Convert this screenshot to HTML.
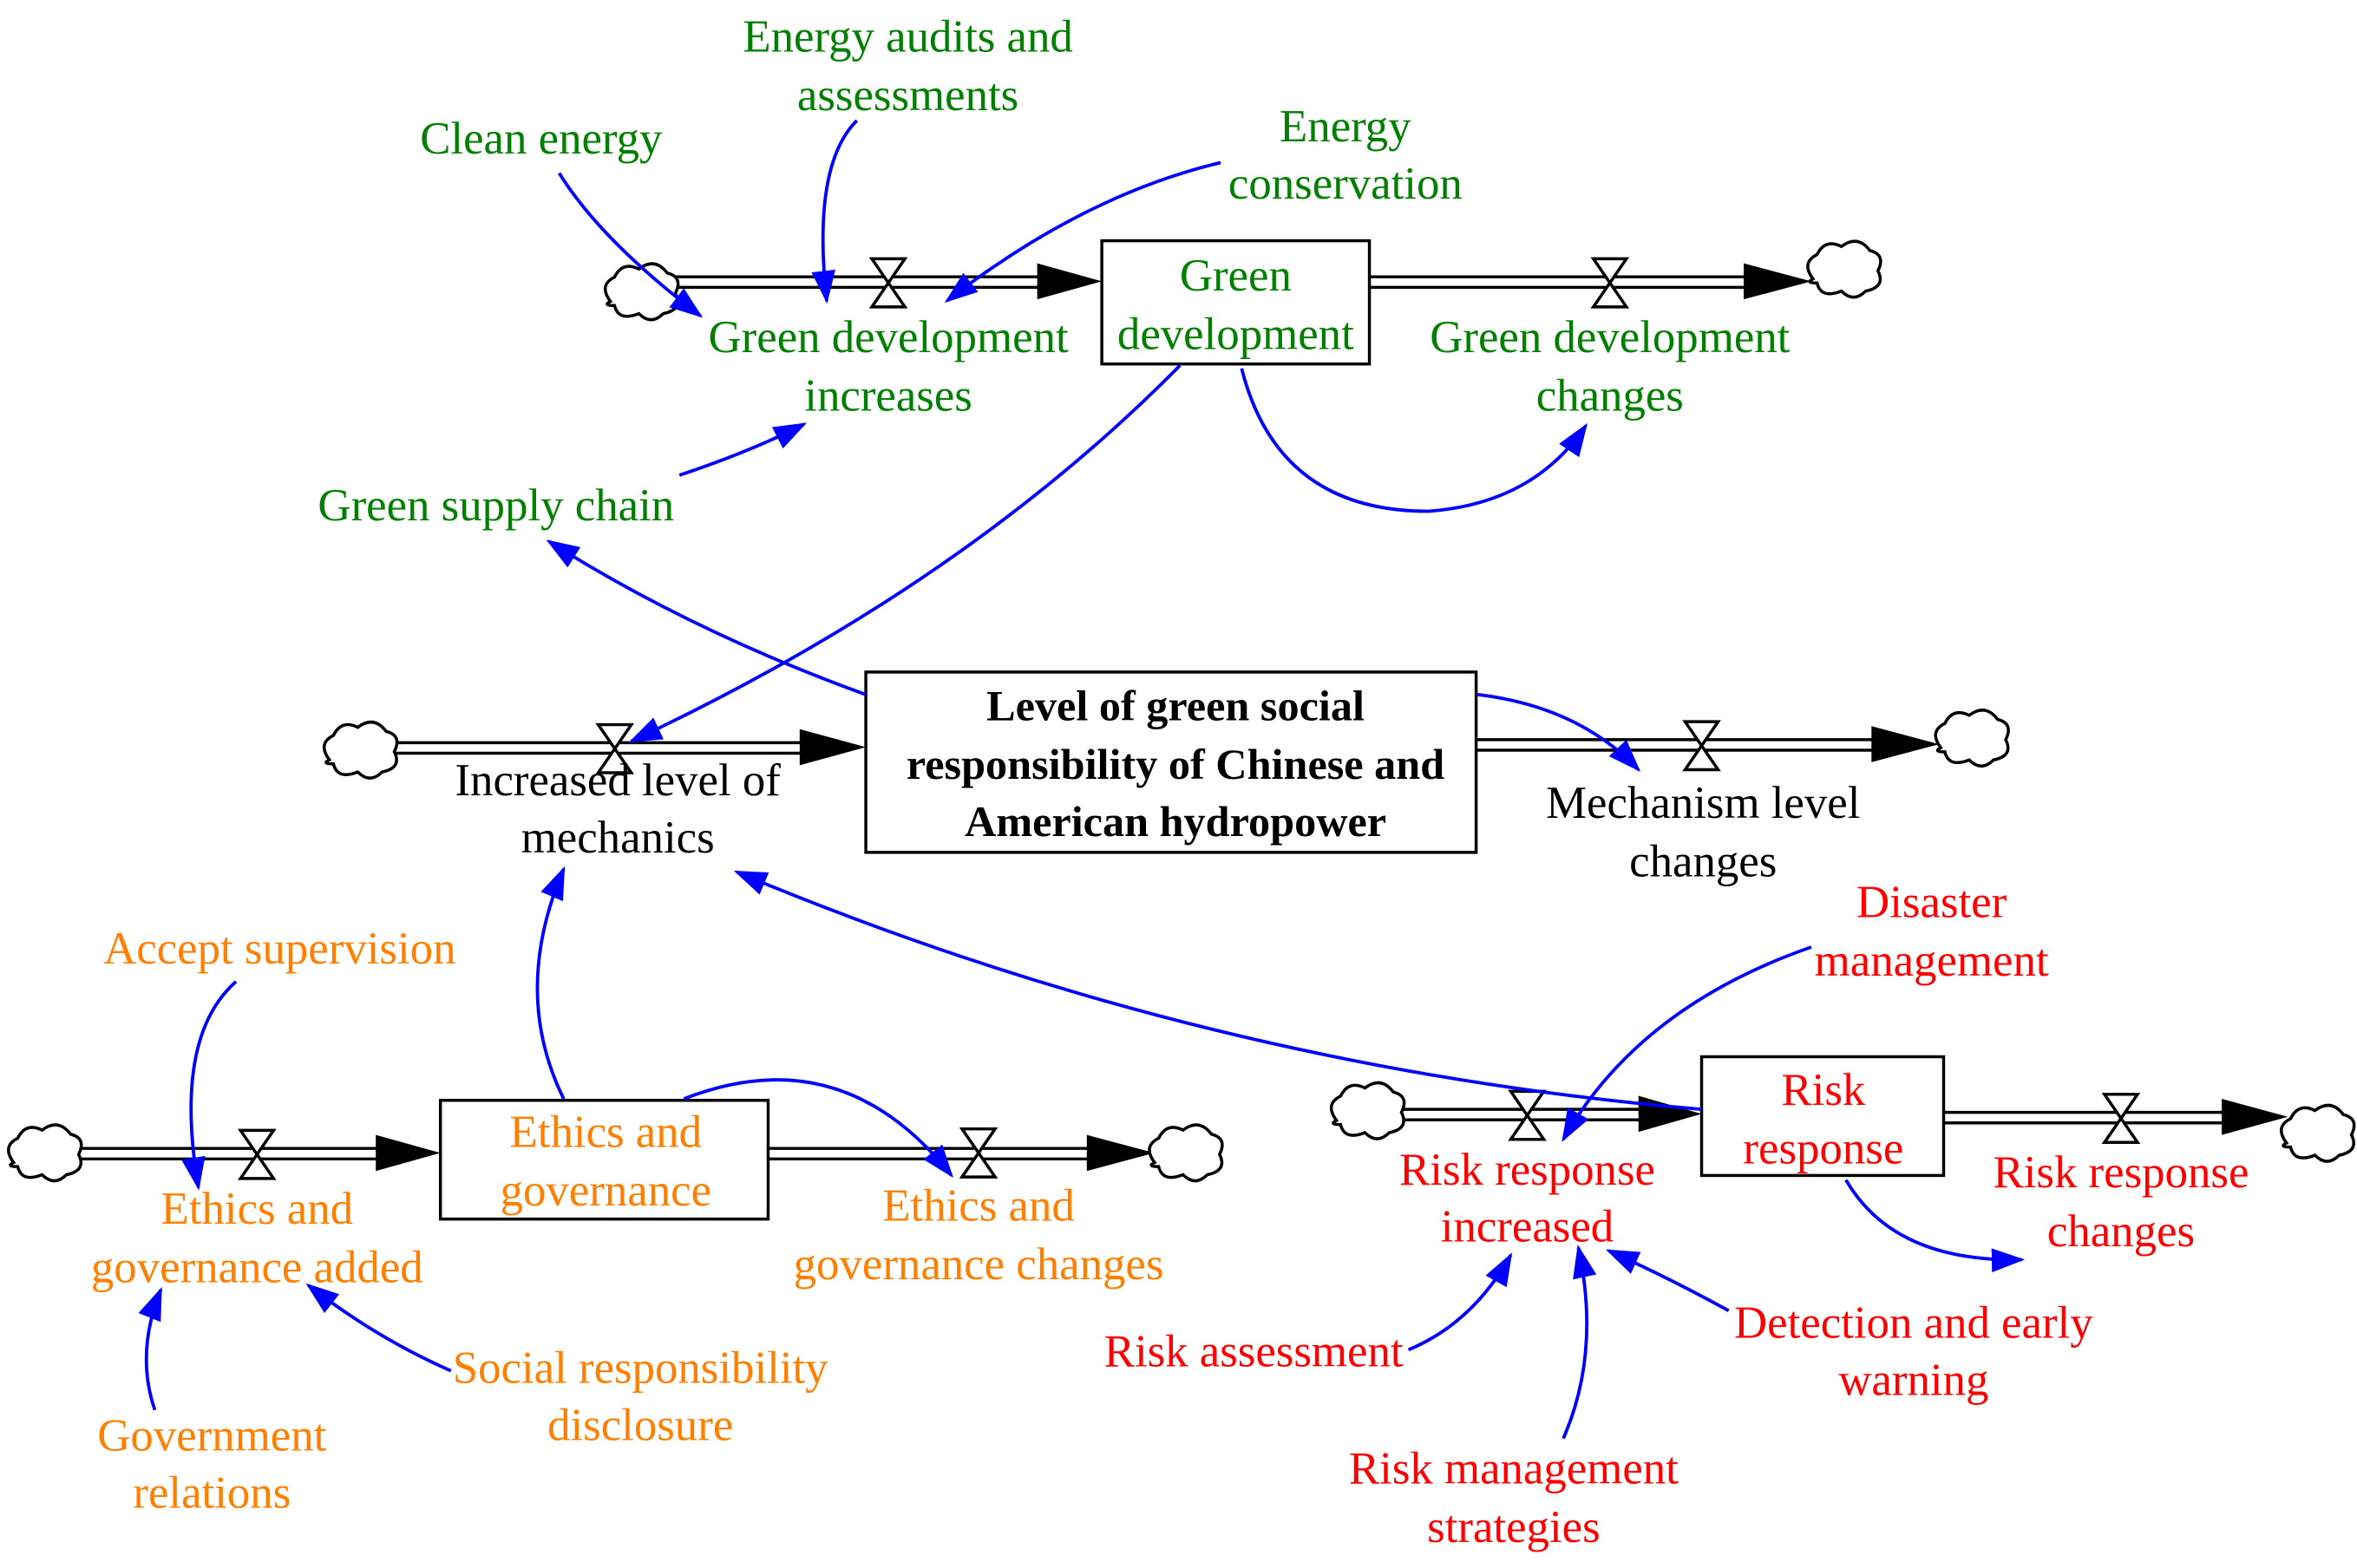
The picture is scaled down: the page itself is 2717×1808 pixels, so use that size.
<!DOCTYPE html>
<html><head><meta charset="utf-8"><style>
html,body{margin:0;padding:0;background:#fff}
svg{display:block}
text{font-family:"Liberation Serif",serif;font-size:30.5px;text-anchor:middle}
.g{fill:#008000}.o{fill:#ff8000}.r{fill:#ff0000}.k{fill:#000}
.b{font-weight:bold;font-size:29px}
.ln{fill:none;stroke:#0000ff;stroke-width:2.2;marker-end:url(#ah)}
.box{fill:#fff;stroke:#000;stroke-width:2}
.pipe{stroke:#000;stroke-width:2}
.valve{fill:#fff;stroke:#000;stroke-width:2}
.cloud{fill:#fff;stroke:#000;stroke-width:1.5}
</style></head><body>
<svg width="2717" height="1808" viewBox="0 0 1568 1043" xmlns="http://www.w3.org/2000/svg">
<defs>
<marker id="ah" markerWidth="22" markerHeight="16" refX="20" refY="8" orient="auto" markerUnits="userSpaceOnUse" viewBox="0 0 22 16">
<path d="M0,0 L22,8 L0,16 z" fill="#0000ff"/></marker>
<g id="cl"><path class="cloud" transform="scale(1.35)" d="M-14,4 q-6,-8 2,-12 q4,-8 12,-4 q8,-6 14,2 q8,2 4,10 q4,8 -6,10 q-6,6 -12,0 q-10,4 -12,-4 q-6,0 -2,-2z"/></g>
<g id="vv"><path class="valve" d="M-11,-16 L11,-16 L-11,16 L11,16 z"/></g>
</defs>

<line class="pipe" x1="445" y1="184" x2="700" y2="184"/><line class="pipe" x1="445" y1="191" x2="700" y2="191"/>
<path d="M690,175 L733,187 L690,199z"/>
<use href="#vv" x="591" y="188"/><use href="#cl" x="425" y="195"/>
<line class="pipe" x1="911" y1="184" x2="1170" y2="184"/><line class="pipe" x1="911" y1="191" x2="1170" y2="191"/>
<path d="M1160,175 L1205,187 L1160,199z"/>
<use href="#vv" x="1071" y="188"/><use href="#cl" x="1225" y="180"/>
<line class="pipe" x1="258" y1="494" x2="540" y2="494"/><line class="pipe" x1="258" y1="501" x2="540" y2="501"/>
<path d="M532,485 L576,497 L532,509z"/>
<use href="#vv" x="409" y="498"/><use href="#cl" x="238" y="500"/>
<line class="pipe" x1="982" y1="492" x2="1255" y2="492"/><line class="pipe" x1="982" y1="499" x2="1255" y2="499"/>
<path d="M1245,483 L1290,495 L1245,507z"/>
<use href="#vv" x="1132" y="496"/><use href="#cl" x="1310" y="492"/>
<line class="pipe" x1="48" y1="764" x2="260" y2="764"/><line class="pipe" x1="48" y1="771" x2="260" y2="771"/>
<path d="M250,755 L293,767 L250,779z"/>
<use href="#vv" x="171" y="768"/><use href="#cl" x="28" y="768"/>
<line class="pipe" x1="511" y1="764" x2="733" y2="764"/><line class="pipe" x1="511" y1="771" x2="733" y2="771"/>
<path d="M723,755 L768,767 L723,779z"/>
<use href="#vv" x="651" y="767"/><use href="#cl" x="787" y="768"/>
<line class="pipe" x1="928" y1="738" x2="1100" y2="738"/><line class="pipe" x1="928" y1="745" x2="1100" y2="745"/>
<path d="M1090,729 L1132,741 L1090,753z"/>
<use href="#vv" x="1016" y="742"/><use href="#cl" x="908" y="740"/>
<line class="pipe" x1="1293" y1="740" x2="1488" y2="740"/><line class="pipe" x1="1293" y1="747" x2="1488" y2="747"/>
<path d="M1478,731 L1522,743 L1478,755z"/>
<use href="#vv" x="1411" y="744"/><use href="#cl" x="1540" y="755"/>

<rect class="box" x="733" y="160" width="178" height="82"/>
<rect class="box" x="576" y="447" width="406" height="120"/>
<rect class="box" x="293" y="732" width="218" height="79"/>
<rect class="box" x="1132" y="703" width="161" height="79"/>

<path class="ln" d="M372,115 Q400,160 466,210"/>
<path class="ln" d="M570,80 Q540,110 550,200"/>
<path class="ln" d="M812,108 Q720,130 630,200"/>
<path class="ln" d="M452,316 Q500,300 535,282"/>
<path class="ln" d="M785,243 Q640,390 420,493"/>
<path class="ln" d="M826,245 Q850,340 950,340 Q1020,335 1055,283"/>
<path class="ln" d="M576,462 Q460,420 365,360"/>
<path class="ln" d="M983,462 Q1050,470 1090,512"/>
<path class="ln" d="M1132,738 Q800,710 490,580"/>
<path class="ln" d="M375,731 Q340,660 375,578"/>
<path class="ln" d="M455,731 Q560,690 633,782"/>
<path class="ln" d="M157,653 Q115,690 132,790"/>
<path class="ln" d="M300,912 Q250,890 205,855"/>
<path class="ln" d="M103,938 Q90,900 107,858"/>
<path class="ln" d="M1205,630 Q1090,670 1040,758"/>
<path class="ln" d="M937,898 Q980,880 1005,835"/>
<path class="ln" d="M1040,957 Q1065,900 1050,830"/>
<path class="ln" d="M1150,872 Q1110,850 1070,832"/>
<path class="ln" d="M1228,785 Q1260,840 1345,838"/>

<text class="g" x="822" y="193">Green</text><text class="g" x="822" y="232">development</text>
<text class="g" x="591" y="234">Green development</text><text class="g" x="591" y="273">increases</text>
<text class="g" x="1071" y="234">Green development</text><text class="g" x="1071" y="273">changes</text>
<text class="g" x="604" y="34">Energy audits and</text><text class="g" x="604" y="73">assessments</text>
<text class="g" x="360" y="102">Clean energy</text>
<text class="g" x="895" y="94">Energy</text><text class="g" x="895" y="132">conservation</text>
<text class="g" x="330" y="346">Green supply chain</text>

<text class="k b" x="782" y="479">Level of green social</text>
<text class="k b" x="782" y="518">responsibility of Chinese and</text>
<text class="k b" x="782" y="556">American hydropower</text>
<text class="k" x="411" y="529">Increased level of</text><text class="k" x="411" y="567">mechanics</text>
<text class="k" x="1133" y="544">Mechanism level</text><text class="k" x="1133" y="583">changes</text>

<text class="o" x="403" y="763">Ethics and</text><text class="o" x="403" y="802">governance</text>
<text class="o" x="171" y="814">Ethics and</text><text class="o" x="171" y="853">governance added</text>
<text class="o" x="651" y="812">Ethics and</text><text class="o" x="651" y="851">governance changes</text>
<text class="o" x="186" y="641">Accept supervision</text>
<text class="o" x="426" y="920">Social responsibility</text><text class="o" x="426" y="958">disclosure</text>
<text class="o" x="141" y="965">Government</text><text class="o" x="141" y="1003">relations</text>

<text class="r" x="1213" y="735">Risk</text><text class="r" x="1213" y="774">response</text>
<text class="r" x="1016" y="788">Risk response</text><text class="r" x="1016" y="826">increased</text>
<text class="r" x="1411" y="790">Risk response</text><text class="r" x="1411" y="829">changes</text>
<text class="r" x="1285" y="610">Disaster</text><text class="r" x="1285" y="649">management</text>
<text class="r" x="834" y="909">Risk assessment</text>
<text class="r" x="1273" y="890">Detection and early</text><text class="r" x="1273" y="928">warning</text>
<text class="r" x="1007" y="987">Risk management</text><text class="r" x="1007" y="1026">strategies</text>
</svg>
</body></html>
